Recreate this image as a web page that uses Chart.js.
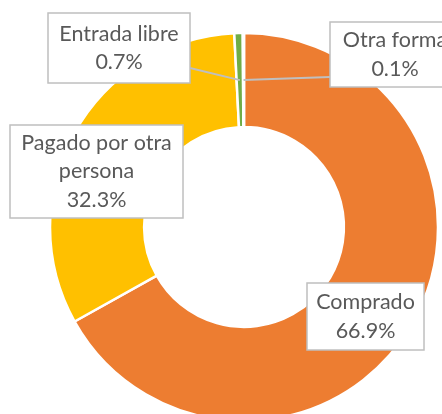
<!DOCTYPE html>
<html>
<head>
<meta charset="utf-8">
<script src="https://cdn.jsdelivr.net/npm/chart.js@4"></script>
<style>
  html, body { margin: 0; padding: 0; background: #fff; overflow: hidden; }
  canvas { display: block; }
</style>
</head>
<body>
<canvas id="donutChart" width="442" height="430"></canvas>
<script>
        const categories = ['Comprado', 'Pagado por otra persona', 'Entrada libre', 'Otra forma'];
        const shares = [66.9, 32.3, 0.7, 0.1];
        const sliceColors = ['#ED7D31', '#FFC000', '#70AD47', '#A5A5A5'];

        // callout boxes: text lines + box rect (layout only)
        const callouts = [
            { lines: ['Comprado'], box: [307, 283, 117, 67], leader: false },
            { lines: ['Pagado por otra', 'persona'], box: [10, 125, 173, 93], leader: false },
            { lines: ['Entrada libre'], box: [48, 13, 142, 70], leader: true, from: [190, 68] },
            { lines: ['Otra forma'], box: [330, 22, 130, 65], leader: true, from: [330, 77] }
        ];

        const calloutPlugin = {
            id: 'callouts',
            afterDatasetsDraw(chart) {
                const ctx = chart.ctx;
                const arcs = chart.getDatasetMeta(0).data;
                ctx.save();
                callouts.forEach((c, i) => {
                    const arc = arcs[i];
                    const [x, y, w, h] = c.box;
                    if (c.leader) {
                        const mid = (arc.startAngle + arc.endAngle) / 2;
                        const r = (arc.innerRadius + arc.outerRadius) / 2;
                        ctx.strokeStyle = '#BFBFBF';
                        ctx.lineWidth = 2;
                        ctx.beginPath();
                        ctx.moveTo(c.from[0], c.from[1]);
                        ctx.lineTo(arc.x + Math.cos(mid) * r, arc.y + Math.sin(mid) * r);
                        ctx.stroke();
                    }
                    ctx.fillStyle = '#ffffff';
                    ctx.fillRect(x, y, w, h);
                    ctx.strokeStyle = '#BFBFBF';
                    ctx.lineWidth = 1.5;
                    ctx.strokeRect(x, y, w, h);

                    const text = c.lines.concat([shares[i].toFixed(1) + '%']);
                    const lineH = 28.5;
                    ctx.fillStyle = '#595959';
                    ctx.font = '21.5px Lato';
                    ctx.textAlign = 'center';
                    ctx.textBaseline = 'middle';
                    const startY = y + h / 2 - (text.length - 1) * lineH / 2;
                    text.forEach((t, k) => ctx.fillText(t, x + w / 2, startY + k * lineH));
                });
                ctx.restore();
            }
        };

        new Chart(document.getElementById('donutChart'), {
            type: 'doughnut',
            data: {
                labels: categories,
                datasets: [{
                    data: shares,
                    backgroundColor: sliceColors,
                    borderColor: '#ffffff',
                    borderWidth: 2.5
                }]
            },
            options: {
                responsive: false,
                animation: false,
                radius: 194,
                cutout: '51.5%',
                layout: { padding: { left: 50, right: 4, top: 33, bottom: 9 } },
                plugins: {
                    legend: { display: false },
                    tooltip: { enabled: false }
                }
            },
            plugins: [calloutPlugin]
        });
</script>
</body>
</html>
